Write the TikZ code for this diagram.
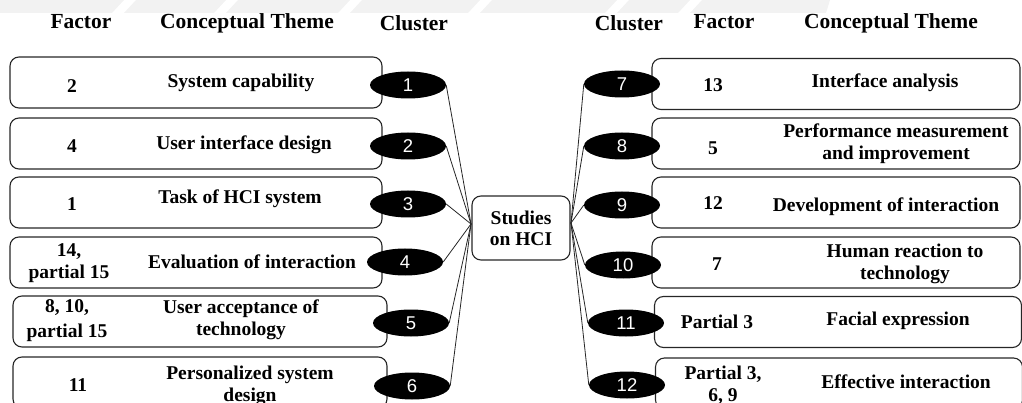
\documentclass[tikz,border=0pt]{standalone}
\usepackage{fontspec}
\setmainfont{Liberation Serif}
\newfontfamily\numfont{Liberation Sans}
\usetikzlibrary{shapes.geometric}

\tikzset{
  themebox/.style={draw=black!85, line width=1.1pt, rounded corners=9pt,
    minimum height=51pt, inner sep=0pt},
  cluster/.style={ellipse, fill=black, minimum width=76pt, minimum height=27pt,
    inner sep=0pt, text=white, font=\numfont\fontsize{18.5}{20}\selectfont},
  txt/.style={align=center, inner sep=0pt,
    font=\bfseries\fontsize{19.5}{22}\selectfont},
  head/.style={inner sep=0pt, anchor=base,
    font=\bfseries\fontsize{21.5}{24}\selectfont},
  link/.style={line width=0.8pt, black!85},
}

\begin{document}
\begin{tikzpicture}[x=1pt, y=-1pt]
\useasboundingbox (0,0) rectangle (1022,403);
\clip (0,0) rectangle (1022,403);

% faint banner stripes along the top edge
\fill[black!5] (0,0) -- (124,0) -- (112,13) -- (0,13) -- cycle;
\fill[black!5] (136,0) -- (226,0) -- (214,13) -- (124,13) -- cycle;
\fill[black!5] (238,0) -- (350,0) -- (338,13) -- (226,13) -- cycle;
\fill[black!5] (362,0) -- (480,0) -- (468,13) -- (350,13) -- cycle;
\fill[black!5] (492,0) -- (617,0) -- (605,13) -- (480,13) -- cycle;
\fill[black!5] (629,0) -- (690,0) -- (678,13) -- (617,13) -- cycle;
\fill[black!5] (702,0) -- (830,0) -- (826,13) -- (690,13) -- cycle;

% column headings
\node[head] (hfl) at (81,29) {Factor};
\node[head] (htl) at (247,29) {Conceptual Theme};
\node[head] (hcl) at (414,31) {Cluster};
\node[head] (hcr) at (629,31) {Cluster};
\node[head] (hfr) at (724,29) {Factor};
\node[head] (htr) at (891,29) {Conceptual Theme};

% central topic
\node[draw=black!85, line width=1.1pt, rounded corners=9pt, minimum width=98pt,
  minimum height=64pt, inner sep=0pt, align=center,
  font=\bfseries\fontsize{19.5}{21}\selectfont] (hub) at (521,228) {Studies\\on HCI};
\coordinate (hl) at (471,224);
\coordinate (hr) at (571,223);

% left-hand themes
\node[themebox, minimum width=372pt] (L1) at (196,82.5) {};
\node[themebox, minimum width=372pt] (L2) at (196,143.5) {};
\node[themebox, minimum width=372pt] (L3) at (196,202.5) {};
\node[themebox, minimum width=372pt] (L4) at (196,262.5) {};
\node[themebox, minimum width=374pt] (L5) at (200,321.5) {};
\node[themebox, minimum width=374pt] (L6) at (200,382.5) {};

\node[txt] (f1) at (72,86) {2};
\node[txt] (t1) at (241,83) {System capability};
\node[txt] (f2) at (72,146) {4};
\node[txt] (t2) at (244,145) {User interface design};
\node[txt] (f3) at (72,204) {1};
\node[txt] (t3) at (240,199) {Task of HCI system};
\node[txt] (f4) at (69,263) {14,\\partial 15};
\node[txt] (t4) at (252,262) {Evaluation of interaction};
\node[txt, font=\bfseries\fontsize{19.5}{25}\selectfont] (f5) at (67,321) {8, 10,\\partial 15};
\node[txt] (t5) at (241,320) {User acceptance of\\technology};
\node[txt] (f6) at (78,385) {11};
\node[txt] (t6) at (250,386) {Personalized system\\design};

\node[cluster] (c1) at (408,85) {1};
\node[cluster] (c2) at (408,146) {2};
\node[cluster] (c3) at (408,204) {3};
\node[cluster] (c4) at (405,262) {4};
\node[cluster] (c5) at (411,323) {5};
\node[cluster] (c6) at (412,386) {6};

% right-hand themes
\node[themebox, minimum width=368pt] (R7) at (836,84) {};
\node[themebox, minimum width=368pt] (R8) at (836,143.5) {};
\node[themebox, minimum width=368pt] (R9) at (836,202.5) {};
\node[themebox, minimum width=368pt] (R10) at (836,262.5) {};
\node[themebox, minimum width=367pt] (R11) at (838,322) {};
\node[themebox, minimum width=367pt] (R12) at (839,383.5) {};

\node[txt] (f7) at (713,85) {13};
\node[txt] (t7) at (885,83) {Interface analysis};
\node[txt] (f8) at (713,148) {5};
\node[txt] (t8) at (896,144) {Performance measurement\\and improvement};
\node[txt] (f9) at (713,203) {12};
\node[txt] (t9) at (886,207) {Development of interaction};
\node[txt] (f10) at (717,264) {7};
\node[txt] (t10) at (905,264) {Human reaction to\\technology};
\node[txt] (f11) at (717,322) {Partial 3};
\node[txt] (t11) at (898,321) {Facial expression};
\node[txt] (f12) at (723,385) {Partial 3,\\6, 9};
\node[txt] (t12) at (906,382) {Effective interaction};

\node[cluster] (c7) at (622,84) {7};
\node[cluster] (c8) at (622,146) {8};
\node[cluster] (c9) at (622,205) {9};
\node[cluster] (c10) at (623,265) {10};
\node[cluster] (c11) at (626,323) {11};
\node[cluster] (c12) at (627,385) {12};

% connectors to the central topic
\foreach \c in {c1,c2,c3,c4,c5,c6}
  \draw[link] (\c.east) -- (hl) -- (hub.west |- hl);
\foreach \c in {c7,c8,c9,c10,c11,c12}
  \draw[link] (\c.west) -- (hr) -- (hub.east |- hr);
\end{tikzpicture}
\end{document}
